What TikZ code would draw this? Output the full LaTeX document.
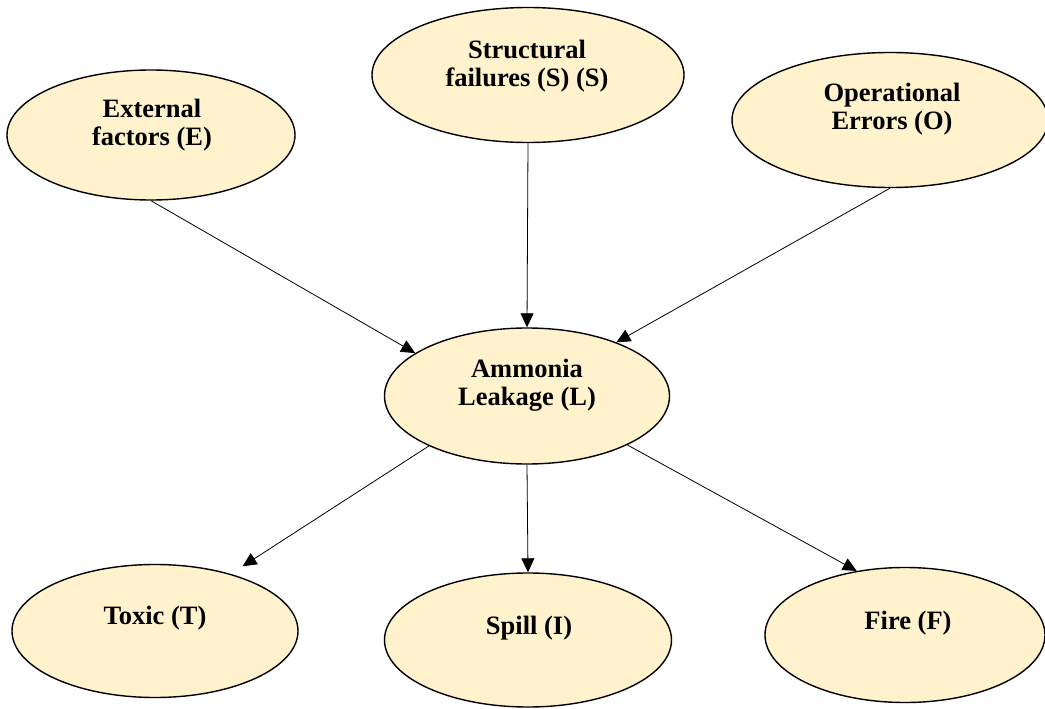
\documentclass[tikz,border=0pt]{standalone}
\usepackage{fontspec}
\setmainfont{Liberation Serif}
\usetikzlibrary{shapes.geometric,arrows.meta}
\definecolor{nodefill}{HTML}{FFF2CC}
\begin{document}
\begin{tikzpicture}[x=1pt,y=-1pt,
  ell/.style={ellipse, draw=black, line width=1.4pt, fill=nodefill, inner sep=0pt},
  lbl/.style={font=\bfseries\fontsize{26.5}{28}\selectfont, align=center, inner sep=0pt},
  conn/.style={line width=0.8pt, -{Triangle[length=14pt,width=13pt]}}]
\useasboundingbox (0,0) rectangle (1045,709);
% ellipses
\node[ell, minimum width=288pt, minimum height=130pt] (E) at (151,135) {};
\node[ell, minimum width=312pt, minimum height=135pt] (S) at (528,75) {};
\node[ell, minimum width=316pt, minimum height=135pt] (O) at (890,120) {};
\node[ell, minimum width=285pt, minimum height=136pt] (L) at (527,396) {};
\node[ell, minimum width=286pt, minimum height=133pt] (T) at (155,631) {};
\node[ell, minimum width=287pt, minimum height=134pt] (I) at (528,640) {};
\node[ell, minimum width=280pt, minimum height=135pt] (F) at (905,635) {};
% labels
\node[lbl] (Et) at (152,125) {External\\factors (E)};
\node[lbl] (St) at (527,66) {Structural\\failures (S) (S)};
\node[lbl] (Ot) at (892,109) {Operational\\Errors (O)};
\node[lbl] (Lt) at (527,385) {Ammonia\\Leakage (L)};
\node[lbl] (Tt) at (155,618) {Toxic (T)};
\node[lbl] (It) at (529,628) {Spill (I)};
\node[lbl] (Ft) at (908,623) {Fire (F)};
% connectors
\draw[conn] (E.south) -- (L.159);
\draw[conn] (S.south) -- (L.north);
\draw[conn] (O.south) -- (L.31);
\draw[conn, shorten >=14pt] (L.207) -- (T.37);
\draw[conn] (L.south) -- (I.north);
\draw[conn] (L.-26) -- (F.127);
\end{tikzpicture}
\end{document}
